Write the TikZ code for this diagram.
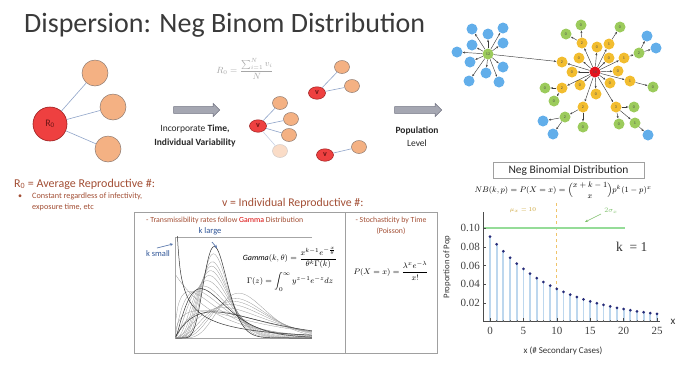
\documentclass[tikz,border=0pt]{standalone}
\usepackage{amsmath}
\usepackage{fontspec}
\setmainfont{Carlito}
\newfontfamily\serifnum{Liberation Serif}
\usetikzlibrary{shapes.arrows,shapes.geometric,arrows.meta}
\definecolor{titlec}{HTML}{3A3A3A}
\definecolor{redc}{HTML}{EE4040}
\definecolor{redb}{HTML}{9A1E1E}
\definecolor{orc}{HTML}{F4B183}
\definecolor{orb}{HTML}{8E7A70}
\definecolor{ledge}{HTML}{8FA3C8}
\definecolor{arrf}{HTML}{A5A7B2}
\definecolor{arrd}{HTML}{6E7080}
\definecolor{netblue}{HTML}{62AEEA}
\definecolor{netgreen}{HTML}{9CCB5C}
\definecolor{netyel}{HTML}{F2BD2F}
\definecolor{netred}{HTML}{E3121C}
\definecolor{netedge}{HTML}{3C3C3C}
\definecolor{brownc}{HTML}{A24E34}
\definecolor{kblue}{HTML}{2F5597}
\definecolor{boxc}{HTML}{A0A0A0}
\definecolor{stemc}{HTML}{BDD7EE}
\definecolor{dotc}{HTML}{262B78}
\definecolor{glinec}{HTML}{95DC98}
\definecolor{mulc}{HTML}{F0C46A}
\definecolor{mutxt}{HTML}{C9A030}
\definecolor{sigc}{HTML}{7DBF6A}
\begin{document}
\begin{tikzpicture}[x=1pt,y=-1pt,
  rc/.style={circle, fill=redc, draw=redb, line width=0.6pt, inner sep=0pt, text=redb!70!black, font=\fontsize{10}{12}\selectfont},
  oc/.style={circle, fill=orc, draw=orb, line width=0.5pt, inner sep=0pt, minimum size=26pt},
  vr/.style={ellipse, fill=redc, draw=redb, line width=0.5pt, inner sep=0pt, minimum width=17pt, minimum height=12.5pt, text=redb!70!black, font=\fontsize{8}{9}\selectfont\bfseries},
  vo/.style={ellipse, fill=orc, draw=orb, line width=0.5pt, inner sep=0pt, minimum width=15pt, minimum height=13pt},
  le/.style={draw=ledge, line width=0.6pt},
  bigarrow/.style={single arrow, fill=arrf, draw=arrd, line width=0.5pt, inner sep=3pt, minimum width=13pt, single arrow head extend=3pt, minimum height=46pt},
  nn/.style={circle, inner sep=0pt, minimum size=11pt, font=\fontsize{4}{4}\selectfont, text=black!70},
  bn/.style={nn, fill=netblue},
  gn/.style={nn, fill=netgreen},
  yn/.style={nn, fill=netyel},
  hn/.style={nn, fill=netred},
  net/.style={draw=netedge, line width=0.45pt, -{Stealth[length=2.4pt,width=2pt]}},
  gcurve/.style={draw=black!40, line width=0.3pt},
  gdark/.style={draw=black!80, line width=0.5pt},
  bt/.style={text=brownc},
  tk/.style={font=\serifnum\fontsize{11}{12}\selectfont, text=black!75}
]
\useasboundingbox (0,0) rectangle (680,368);

% title
\node[anchor=base west, inner sep=0pt, font=\fontsize{28}{30}\selectfont, text=titlec] (title) at (24,32) {Dispersion: Neg Binom Distribution};

% ---- left graph
\node[oc] (o1) at (95,73) {};
\node[oc] (o2) at (113,107) {};
\node[oc] (o3) at (108,149) {};
\node[rc, minimum size=34pt] (R0) at (50,124) {R\textsubscript{0}};
\draw[le] (R0) -- (o1);
\draw[le] (R0) -- (o2);
\draw[le] (R0) -- (o3);

% arrow 1
\node[bigarrow] (ar1) at (195,110) {};
\node[align=center, font=\fontsize{9.5}{14}\selectfont, text=black!85] (inc) at (195,136) {Incorporate \textbf{Time,}\\\textbf{Individual Variability}};

% R0 formula
\node[text=black!35, font=\fontsize{9}{10}\selectfont] (rform) at (245,69) {$R_0=\dfrac{\sum_{i=1}^{N} v_i}{N}$};

% v group
\node[vo] (p1) at (342,67) {};
\node[vo] (p2) at (352,86) {};
\node[vr] (v1) at (317,93) {v};
\draw[le] (v1) -- (p1);
\draw[le] (v1) -- (p2);
\node[vo] (q1) at (280,103) {};
\node[vo] (q2) at (291,119) {};
\node[vo] (q3) at (289,135) {};
\node[vo, fill=orc!45, draw=orb!40] (q4) at (280,151) {};
\node[vr] (v2) at (258,126) {v};
\draw[le] (v2) -- (q1);
\draw[le] (v2) -- (q2);
\draw[le] (v2) -- (q3);
\draw[le, draw=ledge!50] (v2) -- (q4);
\node[vo] (s1) at (359,147) {};
\node[vr] (v3) at (325,155) {v};
\draw[le] (v3) -- (s1);

% arrow 2
\node[bigarrow, minimum height=47pt] (ar2) at (416.5,110) {};
\node[align=center, font=\fontsize{9.5}{13}\selectfont, text=black!85] (pop) at (417,137) {\textbf{Population}\\Level};

% ---- network
\node[gn] (gh) at (488,54) {12};
\foreach \i/\px/\py in {1/472/29,2/488/34,3/503/28,4/472/45,5/503/43,6/457/52,7/470/62,8/503/67,9/486/73,10/469/81,11/499/82}{
  \node[bn] (b\i) at (\px,\py) {};
  \draw[net] (gh) -- (b\i);
}
\node[hn] (rh) at (595,72) {16};
\foreach \i/\px/\py/\lb in {1/562/62/2,2/572/72/0,3/579/58/0,4/582/43/2,5/597/47/0,6/609/44/1,7/609/58/0,8/624/58/1,9/618/71/0,10/630/81/1,11/610/83/0,12/596/94/0,13/580/85/0,14/562/88/2,15/583/107/2,16/616/107/3}{
  \node[yn] (y\i) at (\px,\py) {\lb};
  \draw[net] (rh) -- (y\i);
}
\draw[net] (gh) -- (y1);
\foreach \i/\px/\py/\lb/\pa in {1/566/34/0/4,2/581/25/0/4,3/620/27/0/6,4/639/53/2/8,5/653/87/0/10,6/545/88/0/14,7/554/101/0/14,8/565/117/2/15,9/583/127/0/15,10/634/107/0/16,11/619/124/0/16,12/635/123/1/16}{
  \node[gn] (g\i) at (\px,\py) {\lb};
  \draw[net] (y\pa) -- (g\i);
}
\foreach \i/\px/\py/\pa in {12/647/36/4,13/656/48/4,14/543/121/8,15/553/134/8,16/648/135/12}{
  \node[bn] (b\i) at (\px,\py) {};
  \draw[net] (g\pa) -- (b\i);
}

% ---- left texts
\node[anchor=base west, inner sep=0pt, bt, font=\fontsize{12}{13}\selectfont] (r0t) at (14,187) {R\textsubscript{0} = Average Reproductive \#:};
\node[anchor=base west, inner sep=0pt, bt, font=\fontsize{8}{8}\selectfont] (bul) at (18,198) {\textbullet};
\node[anchor=base west, inner sep=0pt, bt, font=\fontsize{8.2}{11}\selectfont] (cst) at (32,198) {Constant regardless of infectivity,};
\node[anchor=base west, inner sep=0pt, bt, font=\fontsize{8.2}{11}\selectfont] (cst2) at (32,209) {exposure time, etc};

\node[anchor=base west, inner sep=0pt, bt, font=\fontsize{11.8}{13}\selectfont] (vt) at (222,206) {v = Individual Reproductive \#:};

% ---- box
\draw[draw=boxc, line width=0.6pt] (134,212) rectangle (437,353);
\draw[draw=boxc, line width=0.6pt] (345,212) -- (345,353);
\node[anchor=base west, inner sep=0pt, bt, font=\fontsize{7.8}{9}\selectfont] (tr) at (146,222) {- Transmissibility rates follow \textcolor{red!85!black}{Gamma} Distribution};
\node[inner sep=0pt, bt, font=\fontsize{7.8}{11.5}\selectfont, align=center] (st) at (391,226) {- Stochasticity by Time\\(Poisson)};
\node[font=\fontsize{8.5}{10}\selectfont] (pf) at (391,271) {$P(X=x)=\dfrac{\lambda^x e^{-\lambda}}{x!}$};

% gamma plot
\draw[draw=black!35, line width=0.4pt] (312,237) -- (175,237) -- (175,338) -- (312,338);
\begin{scope}[shift={(175pt,-338pt)}, x=42.8pt, y=64pt]
  \clip (0,0) rectangle (3.2,1.58);
  \foreach \k/\c in {1/0,1.5/0.7290,2/1.3863,3/2.6027,4/3.7534,5/4.8691,6/5.9631,7/7.0421,8/8.1103,10/10.2241}{
    \draw[gcurve] plot[domain=0.02:3.2, samples=70, smooth] (\x,{exp(max(-9,\c+(\k-1)*ln(\x)-\k*\x))});
  }
  % wider family (mean 1.7)
  \foreach \k/\c in {1.5/0.7290,2/1.3863,3/2.6027,4/3.7534,5/4.8691,6/5.9631,8/8.1103}{
    \draw[gcurve] plot[domain=0.02:3.2, samples=70, smooth] (\x,{exp(max(-9,\c+(\k-1)*ln(\x/1.7)-\k*\x/1.7-0.5306))});
  }
  \foreach \k/\c in {0.5/-0.9190,2.5/2.0060,12/12.3166}{
    \draw[gdark] plot[domain=0.02:3.2, samples=90, smooth] (\x,{exp(max(-9,\c+(\k-1)*ln(\x)-\k*\x))});
  }
  \draw[gdark] plot[domain=0.02:3.2, samples=90, smooth] (\x,{exp(max(-9,1.3863+ln(\x/1.8)-2*\x/1.8-0.5878))});
\end{scope}
\node[text=kblue, font=\fontsize{8.5}{10}\selectfont] (kl) at (210,231) {k large};
\node[text=kblue, font=\fontsize{8.5}{10}\selectfont] (ks) at (158,254) {k small};
\coordinate (kla) at (212,242);
\coordinate (klb) at (217,248);
\draw[draw=kblue!80, line width=0.7pt, -{Stealth[length=3pt,width=3pt]}] (kla) -- (klb);
\coordinate (ksa) at (157,248);
\coordinate (ksb) at (173,244);
\draw[draw=kblue!80, line width=0.7pt, -{Stealth[length=3pt,width=3pt]}] (ksa) -- (ksb);
\node[font=\fontsize{8}{10}\selectfont] (gf) at (290,258) {$\mathit{Gamma}(k,\theta)=\dfrac{x^{k-1}e^{-\frac{x}{\theta}}}{\theta^{k}\Gamma(k)}$};
\node[font=\fontsize{8}{10}\selectfont] (gz) at (290,282) {$\Gamma(z)=\displaystyle\int_0^{\infty} y^{z-1}e^{-z}dz$};

% ---- right chart
\node[draw=boxc, line width=0.6pt, minimum width=151pt, minimum height=16pt, inner sep=0pt, font=\fontsize{11.5}{13}\selectfont, text=black!85] (nbt) at (568.5,170) {Neg Binomial Distribution};
\node[font=\fontsize{8}{10}\selectfont] (nbf) at (563,190) {$NB(k,p)=P(X=x)=\dbinom{x+k-1}{x}p^k(1-p)^x$};

% stems and dots
\draw[draw=mulc, line width=0.8pt, dashed] (556.8,203) -- (556.8,321.75);
\foreach \i in {0,...,25}{
  \pgfmathsetmacro\px{490+6.68*\i}
  \pgfmathsetmacro\py{321.75-937.5*(1/11)*(10/11)^\i}
  \draw[draw=stemc, line width=1.8pt] (\px,321.75) -- (\px,\py);
  \fill[dotc] (\px,\py) circle (1.5pt);
}
\draw[draw=glinec, line width=1.2pt] (483,228) -- (625,228);
% axes
\draw[draw=black!70, line width=0.6pt] (483,212) -- (483,321.75) -- (660,321.75);
\foreach \v/\yy in {0.02/303,0.04/284.25,0.06/265.5,0.08/246.75,0.10/228}{
  \draw[draw=black!70, line width=0.5pt] (483,\yy) -- (486,\yy);
  \node[tk, anchor=east, inner sep=0pt] at (480,\yy) {\v};
}
\foreach \i in {0,...,25}{
  \pgfmathsetmacro\px{490+6.68*\i}
  \draw[draw=black!60, line width=0.4pt] (\px,321.75) -- (\px,319.5);
}
\foreach \i in {0,5,...,25}{
  \pgfmathsetmacro\px{490+6.68*\i}
  \draw[draw=black!70, line width=0.5pt] (\px,321.75) -- (\px,318);
  \node[tk, inner sep=0pt] at (\px,331) {\i};
}
\node[font=\fontsize{11}{12}\selectfont, text=black!80] (xl) at (673,322) {x};
\node[font=\serifnum\fontsize{13.5}{14}\selectfont, text=black!80, anchor=west, inner sep=0pt] (kone) at (616,247) {k\ \ = 1};
\node[rotate=90, font=\fontsize{8.7}{10}\selectfont, text=black!80] (ylab) at (447,267) {Proportion of Pop};
\node[font=\fontsize{9}{10}\selectfont, text=black!80] (xlab) at (563,351) {x (\# Secondary Cases)};
\node[text=mutxt, font=\fontsize{6.5}{8}\selectfont] (mu) at (523,210) {$\mu_x = 10$};
\node[text=sigc, font=\fontsize{7}{8}\selectfont] (sig) at (611,211) {$2\sigma_x$};
\coordinate (sga) at (601,214);
\coordinate (sgb) at (585,222);
\draw[draw=sigc, line width=0.6pt, -{Stealth[length=3pt,width=2.5pt]}] (sga) -- (sgb);
\end{tikzpicture}
\end{document}
